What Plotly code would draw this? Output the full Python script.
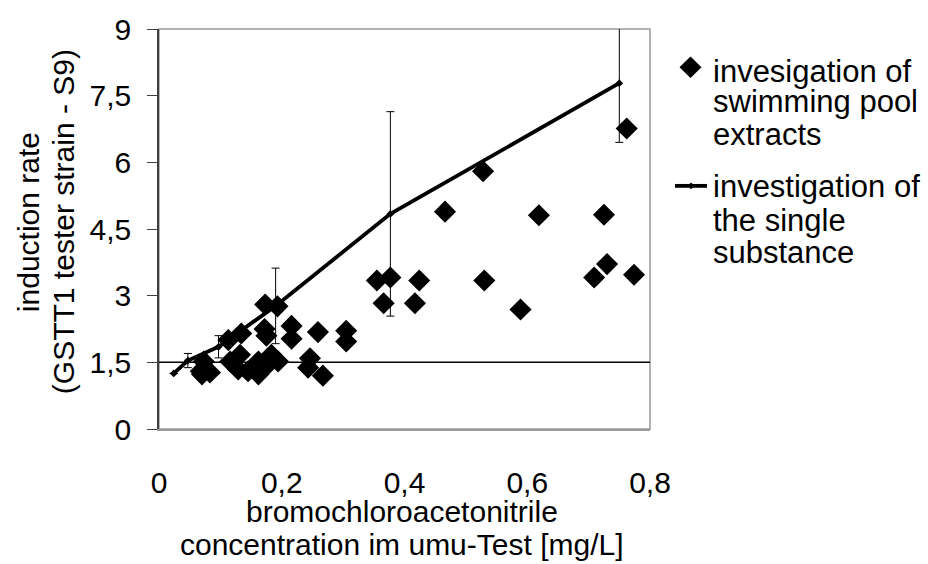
import plotly.graph_objects as go

# swimming pool extracts (scatter diamonds)
pool_x = [0.068, 0.070, 0.083, 0.073, 0.113, 0.134, 0.116, 0.132, 0.129, 0.145,
          0.162, 0.162, 0.172, 0.175, 0.172, 0.173, 0.193, 0.183, 0.194, 0.216,
          0.216, 0.246, 0.243, 0.259, 0.267, 0.305, 0.305, 0.355, 0.377, 0.366,
          0.424, 0.417, 0.466, 0.528, 0.530, 0.589, 0.619, 0.709, 0.725, 0.730,
          0.762, 0.774]
pool_y = [1.30, 1.23, 1.27, 1.52, 2.00, 2.15, 1.52, 1.67, 1.34, 1.30,
          1.52, 1.23, 1.38, 2.10, 2.25, 2.80, 2.76, 1.67, 1.52, 2.32,
          2.03, 1.59, 1.38, 2.18, 1.20, 2.21, 1.97, 3.34, 3.41, 2.83,
          3.34, 2.83, 4.89, 5.80, 3.34, 2.69, 4.81, 3.41, 4.82, 3.71,
          6.76, 3.47]

# single substance (line with error bars)
single_x = [0.024, 0.047, 0.097, 0.190, 0.377, 0.750]
single_y = [1.25, 1.54, 1.85, 2.77, 4.84, 7.78]
single_err = [0.0, 0.16, 0.25, 0.85, 2.30, 1.33]

baseline = 1.5

x_ticks = [0, 0.2, 0.4, 0.6, 0.8]
y_ticks = [0, 1.5, 3, 4.5, 6, 7.5, 9]

legend_pool = ["invesigation of", "swimming pool", "extracts"]
legend_single = ["investigation of", "the single", "substance"]
y_title = ["induction rate", "(GSTT1 tester strain - S9)"]
x_title = ["bromochloroacetonitrile", "concentration im umu-Test [mg/L]"]

FONT = "Arial, 'Liberation Sans', sans-serif"
FS = 30
LFS = 31

# plot-area geometry in pixels (for placing the text/legend in paper coords)
L, R, T, B = 159, 650, 21, 429
W, H = R - L, B - T


def px(xp):
    return (xp - L) / W


def py(yp):
    return (B - yp) / H


fig = go.Figure()
fig.add_trace(go.Scatter(
    x=pool_x, y=pool_y, mode="markers", name=" ".join(legend_pool),
    marker=dict(symbol="diamond", size=17, color="black", line=dict(width=0)),
    showlegend=False,
))
fig.add_trace(go.Scatter(
    x=single_x, y=single_y, mode="lines+markers", name=" ".join(legend_single),
    line=dict(color="black", width=3.8),
    marker=dict(symbol="diamond", size=6, color="black"),
    error_y=dict(type="data", array=single_err, symmetric=True,
                 color="black", thickness=1, width=4),
    cliponaxis=False,
    showlegend=False,
))

# plot frame and 1.5 reference line
fig.add_shape(type="rect", xref="x domain", yref="y domain", x0=0, x1=1, y0=0, y1=1,
              line=dict(color="#9a9a9a", width=1.5), layer="below")
fig.add_shape(type="line", xref="x domain", yref="y", x0=0, x1=1, y0=baseline, y1=baseline,
              line=dict(color="black", width=1.5), layer="below")

txt = dict(family=FONT, size=FS, color="black")

# axis titles (one annotation per line so the line spacing matches)
for xc, line in zip([28, 63], y_title):
    fig.add_annotation(text=line, xref="paper", yref="paper", x=px(xc), y=py(218),
                       xanchor="center", yanchor="middle", textangle=-90,
                       showarrow=False, font=txt)
for yc, line in zip([513, 547], x_title):
    fig.add_annotation(text=line, xref="paper", yref="paper", x=px(402), y=py(yc),
                       xanchor="center", yanchor="middle", showarrow=False, font=txt)

# legend: symbols
d = 11
cx, cy = 690.5, 60
fig.add_shape(type="path", xref="paper", yref="paper",
              path=f"M {px(cx - d)} {py(cy)} L {px(cx)} {py(cy - d)} L {px(cx + d)} {py(cy)} L {px(cx)} {py(cy + d)} Z",
              fillcolor="black", line=dict(width=0))
ly = 181
fig.add_shape(type="line", xref="paper", yref="paper", x0=px(675), x1=px(707), y0=py(ly), y1=py(ly),
              line=dict(color="black", width=3.8))
d2 = 3.5
fig.add_shape(type="path", xref="paper", yref="paper",
              path=f"M {px(691 - d2)} {py(ly)} L {px(691)} {py(ly - d2)} L {px(691 + d2)} {py(ly)} L {px(691)} {py(ly + d2)} Z",
              fillcolor="black", line=dict(width=0))

# legend: texts
for yc, line in zip([64, 95, 129], legend_pool):
    fig.add_annotation(text=line, xref="paper", yref="paper", x=px(711), y=py(yc),
                       xanchor="left", yanchor="middle", showarrow=False,
                       font=dict(family=FONT, size=LFS, color="black"))
for yc, line in zip([182, 216, 249], legend_single):
    fig.add_annotation(text=line, xref="paper", yref="paper", x=px(711), y=py(yc),
                       xanchor="left", yanchor="middle", showarrow=False,
                       font=dict(family=FONT, size=LFS, color="black"))

fig.update_layout(
    width=928, height=564,
    margin=dict(l=L, r=928 - R, t=T, b=564 - B),
    paper_bgcolor="white", plot_bgcolor="white",
    separators=", ",
    font=dict(family=FONT, size=FS, color="black"),
    showlegend=False,
    xaxis=dict(range=[0, 0.8], tickvals=x_ticks, showgrid=False, zeroline=False,
               showline=True, linecolor="#9a9a9a", linewidth=1.5,
               ticks="", ticklabelstandoff=26,
               tickfont=dict(family=FONT, size=FS, color="black")),
    yaxis=dict(range=[0, 9], tickvals=y_ticks, showgrid=False, zeroline=False,
               showline=True, linecolor="#404040", linewidth=1.5,
               ticks="outside", ticklen=10, tickcolor="#404040", tickwidth=1,
               ticklabelstandoff=10,
               tickfont=dict(family=FONT, size=FS, color="black")),
)

fig.write_html("out.html")
